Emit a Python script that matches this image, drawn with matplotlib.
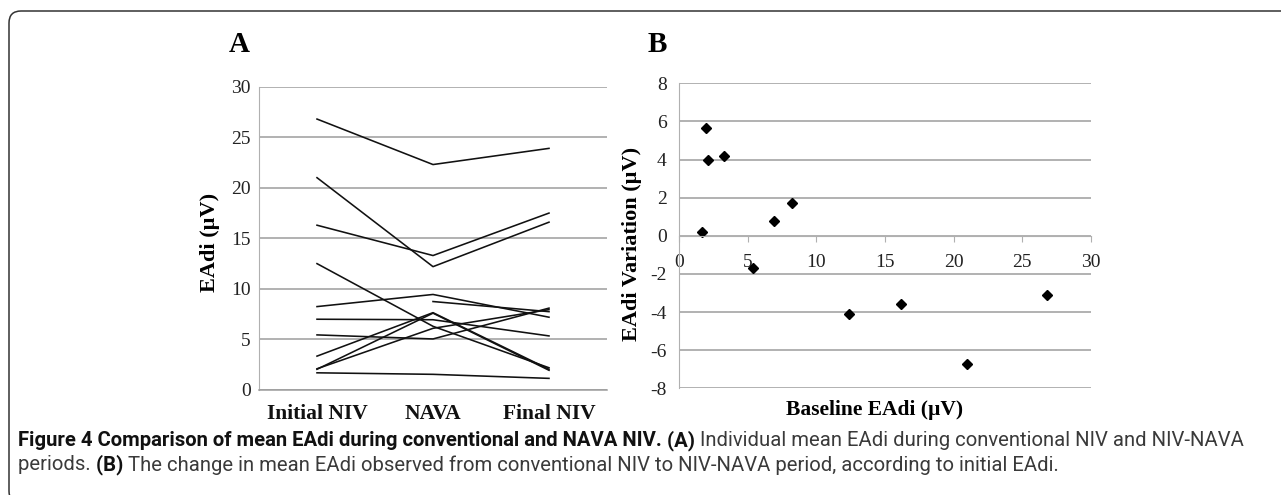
import numpy as np
import matplotlib
matplotlib.use("Agg")
import matplotlib.pyplot as plt
import matplotlib.patches as mpatches
from matplotlib import font_manager

# ============================================================
#   DATA
# ============================================================
periods = ["Initial NIV", "NAVA", "Final NIV"]

# one row per patient: initial NIV, NAVA, final NIV (nan = missing)
eadi_initial = [26.8, 21.0, 16.3, 12.5, 8.25, np.nan, 7.0, 5.45, 3.35, 2.05, 2.1, 1.7]
eadi_nava    = [22.3, 12.2, 13.3, 6.3, 9.45, 8.75, 6.95, 5.05, 7.65, 7.6, 6.1, 1.55]
eadi_final   = [23.9, 16.6, 17.5, 2.2, 7.2, 7.75, 5.35, 8.1, 2.05, 1.95, 7.95, 1.15]

baseline_eadi = [1.7, 2.0, 2.1, 3.3, 5.4, 6.9, 8.2, 12.4, 16.2, 21.0, 26.8]
eadi_variation = [0.2, 5.65, 4.0, 4.2, -1.7, 0.8, 1.7, -4.1, -3.6, -6.7, -3.1]

caption_1 = [("Figure 4 Comparison of mean EAdi during conventional and NAVA NIV. ", "bold"),
             ("(A) ", "bold"),
             ("Individual mean EAdi during conventional NIV and NIV-NAVA", "normal")]
caption_2 = [("periods. ", "normal"),
             ("(B) ", "bold"),
             ("The change in mean EAdi observed from conventional NIV to NIV-NAVA period, "
              "according to initial EAdi.", "normal")]

W, H = 1281, 495
SERIF = "Liberation Serif"
GRID = "#9c9c9c"
installed = {f.name for f in font_manager.fontManager.ttflist}
CAP_FONT = "Roboto" if "Roboto" in installed else "Open Sans"

plt.rcParams["axes.unicode_minus"] = False

fig = plt.figure(figsize=(W / 100, H / 100), dpi=100)


def fx(px):
    return px / W


def fy(py):
    return 1 - py / H


# ============================================================
#   PANEL A: individual lines
# ============================================================
axA = fig.add_axes([fx(259), fy(390), fx(607 - 259), fy(86.7) - fy(390)])
x = np.arange(len(periods))
for a, b, c in zip(eadi_initial, eadi_nava, eadi_final):
    axA.plot(x, [a, b, c], color="#111111", lw=1.15)

axA.set_xlim(-0.5, 2.5)
axA.set_ylim(0, 30)
axA.set_yticks(range(0, 31, 5))
axA.yaxis.grid(True, color=GRID, lw=1.1)
axA.set_axisbelow(True)
axA.set_xticks(x)
axA.set_xticklabels(periods, fontfamily=SERIF, fontweight="bold", fontsize=15.5)
axA.tick_params(axis="x", length=0, pad=10, colors="#111111")
axA.tick_params(axis="y", length=0, pad=6, labelsize=14, colors="#222222")
for lab in axA.get_yticklabels():
    lab.set_fontfamily(SERIF)
for s in ["top", "right"]:
    axA.spines[s].set_visible(False)
axA.spines["left"].set_color("#b0b0b0")
axA.spines["bottom"].set_color(GRID)
axA.spines["bottom"].set_linewidth(1.1)

fig.text(fx(210), fy(242.5), "EAdi (µV)", rotation=90, ha="center", va="center",
         fontfamily=SERIF, fontweight="bold", fontsize=16)
fig.text(fx(239), fy(45), "A", ha="center", va="center",
         fontfamily=SERIF, fontweight="bold", fontsize=21)

# ============================================================
#   PANEL B: variation vs baseline
# ============================================================
axB = fig.add_axes([fx(679), fy(388.3), fx(1091 - 679), fy(83.3) - fy(388.3)])
axB.plot(baseline_eadi, eadi_variation, linestyle="none", marker="D",
         markersize=5.5, color="#000000")
axB.set_xlim(0, 30)
axB.set_ylim(-8, 8)
axB.set_yticks(range(-8, 9, 2))
axB.set_xticks(range(0, 31, 5))
axB.yaxis.grid(True, color=GRID, lw=1.1)
axB.set_axisbelow(True)
for s in ["top", "right"]:
    axB.spines[s].set_visible(False)
axB.spines["bottom"].set_position(("data", 0))
axB.spines["bottom"].set_color("#b0b0b0")
axB.spines["left"].set_color("#b0b0b0")
axB.tick_params(axis="x", length=4, direction="out", color="#b0b0b0", pad=9,
                labelsize=14, labelcolor="#222222")
axB.tick_params(axis="y", length=0, pad=9, labelsize=14, labelcolor="#222222")
for lab in axB.get_xticklabels() + axB.get_yticklabels():
    lab.set_fontfamily(SERIF)

fig.text(fx(631.7), fy(243.5), "EAdi Variation (µV)", rotation=90, ha="center",
         va="center", fontfamily=SERIF, fontweight="bold", fontsize=16)
fig.text(fx(874.7), fy(410), "Baseline EAdi (µV)", ha="center", va="center",
         fontfamily=SERIF, fontweight="bold", fontsize=15.5)
fig.text(fx(657.5), fy(45), "B", ha="center", va="center",
         fontfamily=SERIF, fontweight="bold", fontsize=21)

# ============================================================
#   FRAME + CAPTION
# ============================================================
frame = mpatches.FancyBboxPatch((9, -8), 1400, H - 11 + 8,
                                boxstyle="round,pad=0,rounding_size=12",
                                transform=None, fill=False, lw=1.1, ec="#333333")
fig.patches.append(frame)

renderer = fig.canvas.get_renderer()


def draw_runs(runs, x0, y0, size):
    xpos = x0
    for txt, weight in runs:
        t = fig.text(xpos / W, fy(y0), txt, fontfamily=CAP_FONT, fontweight=weight,
                     fontsize=size, va="center", ha="left",
                     color="#111111" if weight == "bold" else "#3a3a3a")
        xpos = t.get_window_extent(renderer).x1
    return xpos


# fit first line to the width in the reference (18 -> 1248 px)
probe = draw_runs(caption_1, 18, -100, 10)
cap_size = 10 * (1248 - 18) / (probe - 18)
for t in list(fig.texts):
    if t.get_position()[1] > 1:
        t.remove()
draw_runs(caption_1, 18, 441, cap_size)
draw_runs(caption_2, 18, 465, cap_size)

fig.savefig("out.png", dpi=100)
